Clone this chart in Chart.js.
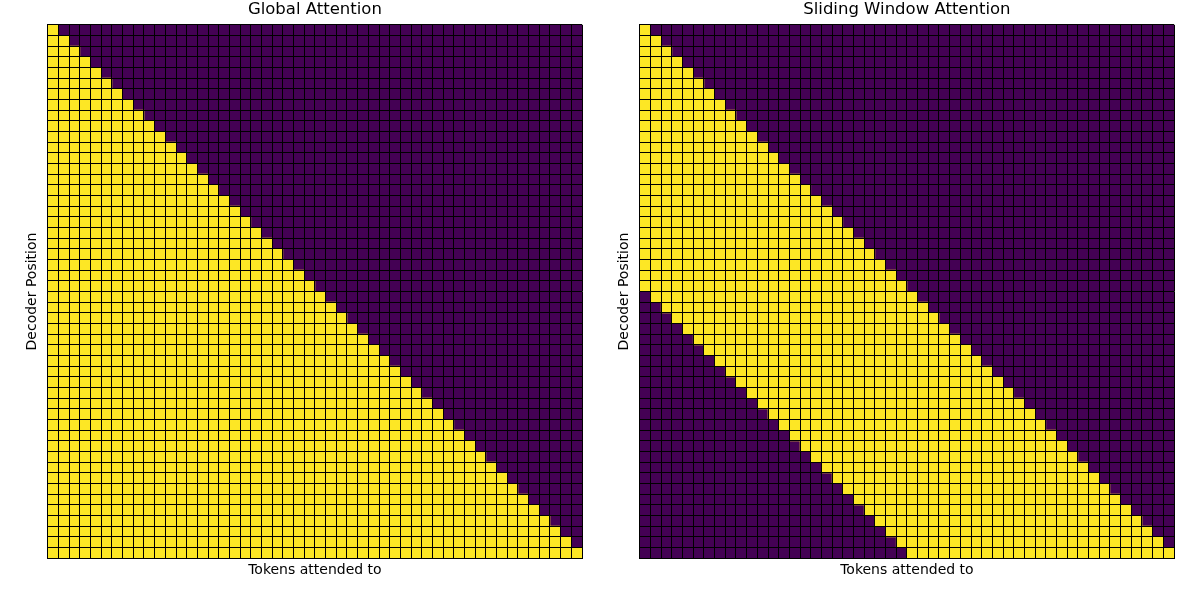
<!DOCTYPE html>
<html>
<head>
<meta charset="utf-8">
<script src="https://cdn.jsdelivr.net/npm/chart.js@4.4.1/dist/chart.umd.min.js"></script>
<style>
    body { margin: 0; background: #fff; }
    .panel { position: absolute; top: 0; width: 600px; height: 600px; }
</style>
</head>
<body>
<div class="panel" style="left:0"><canvas id="globalChart" width="600" height="600"></canvas></div>
<div class="panel" style="left:600px"><canvas id="slidingChart" width="600" height="600"></canvas></div>
<script>
// row index (decoder position), 0 at top
const rows = [0, 1, 2, 3, 4, 5, 6, 7, 8, 9, 10, 11, 12, 13, 14, 15, 16, 17, 18, 19, 20, 21, 22, 23, 24,
    25, 26, 27, 28, 29, 30, 31, 32, 33, 34, 35, 36, 37, 38, 39, 40, 41, 42, 43, 44, 45, 46, 47, 48, 49];

// global attention: every token up to and including current position
const globalStart = [0, 0, 0, 0, 0, 0, 0, 0, 0, 0, 0, 0, 0, 0, 0, 0, 0, 0, 0, 0, 0, 0, 0, 0, 0,
    0, 0, 0, 0, 0, 0, 0, 0, 0, 0, 0, 0, 0, 0, 0, 0, 0, 0, 0, 0, 0, 0, 0, 0, 0];
const globalEnd = [1, 2, 3, 4, 5, 6, 7, 8, 9, 10, 11, 12, 13, 14, 15, 16, 17, 18, 19, 20, 21, 22, 23, 24, 25,
    26, 27, 28, 29, 30, 31, 32, 33, 34, 35, 36, 37, 38, 39, 40, 41, 42, 43, 44, 45, 46, 47, 48, 49, 50];

// sliding window attention (window of 25 tokens)
const slidingStart = [0, 0, 0, 0, 0, 0, 0, 0, 0, 0, 0, 0, 0, 0, 0, 0, 0, 0, 0, 0, 0, 0, 0, 0, 0,
    1, 2, 3, 4, 5, 6, 7, 8, 9, 10, 11, 12, 13, 14, 15, 16, 17, 18, 19, 20, 21, 22, 23, 24, 25];
const slidingEnd = [1, 2, 3, 4, 5, 6, 7, 8, 9, 10, 11, 12, 13, 14, 15, 16, 17, 18, 19, 20, 21, 22, 23, 24, 25,
    26, 27, 28, 29, 30, 31, 32, 33, 34, 35, 36, 37, 38, 39, 40, 41, 42, 43, 44, 45, 46, 47, 48, 49, 50];

const nTokens = 50;
const yellow = '#fde725';
const purple = '#440154';
const font = 'DejaVu Sans';

function makeChart(id, title, starts, ends, pad) {
    let attended = [];
    let masked = [];
    for (let i = 0; i < rows.length; i++) {
        attended.push({ x: [starts[i], ends[i]], y: rows[i] + 0.5 });
        masked.push({ x: [0, nTokens], y: rows[i] + 0.5 });
    }
    let ctx = document.getElementById(id).getContext('2d');
    return new Chart(ctx, {
        type: 'bar',
        data: {
            datasets: [{
                data: attended,
                backgroundColor: yellow,
                borderWidth: 0,
                grouped: false,
                barPercentage: 1,
                categoryPercentage: 1
            }, {
                data: masked,
                backgroundColor: purple,
                borderWidth: 0,
                grouped: false,
                barPercentage: 1,
                categoryPercentage: 1
            }]
        },
        options: {
            responsive: false,
            animation: false,
            indexAxis: 'y',
            layout: { padding: pad },
            plugins: {
                legend: { display: false },
                tooltip: { enabled: false },
                title: {
                    display: true,
                    fullSize: false,
                    text: title,
                    color: '#000',
                    font: { family: font, size: 16.5, weight: 'normal' },
                    padding: { top: 0, bottom: 5 }
                }
            },
            scales: {
                x: {
                    type: 'linear',
                    min: 0,
                    max: nTokens,
                    offset: false,
                    grid: { z: 1, offset: false, color: '#000', lineWidth: 1, drawTicks: false, tickLength: 0 },
                    border: { z: 1, color: '#000', width: 1 },
                    ticks: { display: false, stepSize: 1 },
                    title: {
                        display: true,
                        text: 'Tokens attended to',
                        color: '#000',
                        font: { family: font, size: 14 },
                        padding: { top: 4, bottom: 4 }
                    }
                },
                y: {
                    type: 'linear',
                    min: 0,
                    max: nTokens,
                    reverse: true,
                    offset: false,
                    grid: { z: 1, offset: false, color: '#000', lineWidth: 1, drawTicks: false, tickLength: 0 },
                    border: { z: 1, color: '#000', width: 1 },
                    ticks: { display: false, stepSize: 1 },
                    title: {
                        display: true,
                        text: 'Decoder Position',
                        color: '#000',
                        font: { family: font, size: 14 },
                        padding: { top: 2, bottom: 7 }
                    }
                }
            }
        }
    });
}

makeChart('globalChart', 'Global Attention', globalStart, globalEnd, { top: 0, bottom: 17, left: 22, right: 18 });
makeChart('slidingChart', 'Sliding Window Attention', slidingStart, slidingEnd, { top: 0, bottom: 17, left: 14, right: 26 });
</script>
</body>
</html>
